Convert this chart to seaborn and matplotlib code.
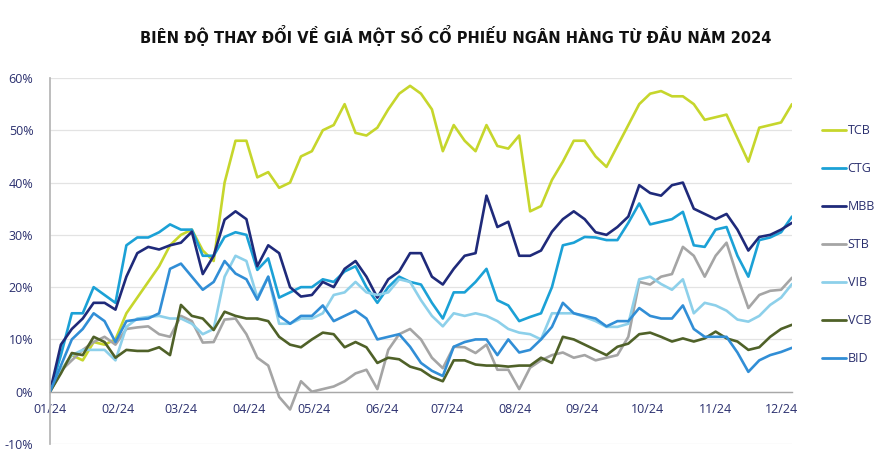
import pandas as pd
import matplotlib
matplotlib.use("Agg")
import matplotlib.pyplot as plt
import matplotlib.dates as mdates
from matplotlib.ticker import PercentFormatter, MultipleLocator
import seaborn as sns

# sample dates: every 5 days from 01/01/2024 to 06/12/2024
DATES = pd.date_range("2024-01-01", periods=69, freq="5D")

TCB = [0, 4, 7, 6, 9.5, 9, 10, 15, 18, 21, 24, 28, 30, 31, 27, 25, 40, 48, 48, 41,
       42, 39, 40, 45, 46, 50, 51, 55, 49.5, 49, 50.5, 54, 57, 58.5, 57, 54, 46, 51, 48, 46,
       51, 47, 46.5, 49, 34.5, 35.5, 40.5, 44, 48, 48, 45, 43, 47, 51, 55, 57, 57.5, 56.5, 56.5,
       55, 52, 52.5, 53, 48.5, 44, 50.5, 51, 51.5, 55]
CTG = [0, 7, 15, 15, 20, 18.5, 17, 28, 29.5, 29.5, 30.5, 32, 31, 31, 26, 26, 29.6, 30.5, 30, 23.3,
       25.5, 18, 19, 20, 20, 21.5, 21, 23, 24, 20, 17, 20, 22, 21, 20.5, 17, 14, 19, 19, 21,
       23.5, 17.5, 16.5, 13.5, 14.3, 15, 20, 28, 28.5, 29.6, 29.5, 29, 29, 32.3, 36, 32, 32.5, 33, 34.4,
       28, 27.7, 31, 31.5, 26, 22, 29, 29.5, 30.5, 33.5]
MBB = [0, 9, 12, 14, 17, 17, 15.7, 22, 26.5, 27.7, 27.2, 28, 28.5, 30.6, 22.5, 26, 32.9, 34.5, 33, 24,
       28, 26.5, 20, 18.2, 18.5, 21, 20, 23.5, 25, 22, 18, 21.5, 23, 26.5, 26.5, 22, 20.5, 23.5, 26, 26.5,
       37.5, 31.5, 32.5, 26, 26, 27, 30.6, 33, 34.5, 33, 30.5, 30, 31.5, 33.5, 39.5, 38, 37.5, 39.5, 40,
       35, 34, 33, 34, 31, 27, 29.6, 30, 31, 32.3]
STB = [0, 4, 6, 8, 9.5, 10.5, 9, 12, 12.3, 12.5, 11, 10.5, 14.5, 13.5, 9.4, 9.5, 13.8, 14, 11, 6.5,
       5, -1, -3.4, 2, 0, 0.5, 1, 2, 3.5, 4.2, 0.5, 8, 11, 12, 10, 6.5, 4.5, 8.6, 8.5, 7.4,
       9, 4.2, 4.2, 0.5, 4.6, 6, 7, 7.5, 6.5, 7, 6, 6.5, 7, 10.5, 21, 20.5, 22, 22.5, 27.7,
       26, 22, 26, 28.5, 22, 16, 18.5, 19.3, 19.5, 21.8]
VIB = [0, 4, 7, 8, 8, 8, 6, 12.4, 14, 14.3, 14.5, 14, 14, 13, 11, 12, 22, 26, 25, 18,
       22, 13, 13, 14, 14, 15, 18.5, 19, 21, 19, 18.5, 19, 21.5, 21, 17.5, 14.5, 12.5, 15, 14.5, 15,
       14.5, 13.5, 12, 11.3, 11, 10, 15, 15, 15, 14.3, 13.5, 12.4, 12.4, 13, 21.5, 22, 20.6, 19.5, 21.5,
       15, 17, 16.5, 15.5, 13.8, 13.4, 14.5, 16.6, 18, 20.6]
VCB = [0, 3.5, 7.4, 7, 10.5, 9.5, 6.5, 8, 7.8, 7.8, 8.5, 7, 16.6, 14.5, 14, 11.8, 15.3, 14.5, 14, 14,
       13.5, 10.5, 9, 8.5, 10, 11.3, 11, 8.5, 9.5, 8.5, 5.5, 6.5, 6.2, 4.8, 4.2, 2.8, 2, 6, 6, 5.2,
       5, 5, 4.8, 5, 5, 6.5, 5.5, 10.5, 10, 9, 8, 7, 8.6, 9.2, 11, 11.3, 10.5, 9.6, 10.2,
       9.6, 10.2, 11.5, 10.2, 9.6, 8, 8.5, 10.5, 12, 12.8]
BID = [0, 5, 10, 12, 15, 13.5, 9.5, 13.5, 13.8, 14, 15, 23.5, 24.5, 22, 19.5, 21, 25, 22.6, 21.5, 17.6,
       22, 14.5, 13, 14.5, 14.5, 16.5, 13.5, 14.5, 15.5, 14, 10, 10.5, 11, 8.6, 5.5, 4, 3, 8.6, 9.5, 10,
       10, 7, 10, 7.5, 8, 10, 12.4, 17, 15, 14.5, 14, 12.5, 13.5, 13.5, 16, 14.5, 14, 14, 16.5,
       12, 10.5, 10.5, 10.5, 7.5, 3.8, 6, 7, 7.6, 8.4]

STOCKS = ["TCB", "CTG", "MBB", "STB", "VIB", "VCB", "BID"]
COLORS = {"TCB": "#c6d62c", "CTG": "#1ba1d6", "MBB": "#1f2a7a", "STB": "#a5a5a5",
          "VIB": "#8dd0ea", "VCB": "#4f6128", "BID": "#318ed6"}
TITLE = "BIÊN ĐỘ THAY ĐỔI VỀ GIÁ MỘT SỐ CỔ PHIẾU NGÂN HÀNG TỪ ĐẦU NĂM 2024"

NAVY = "#2a2f6e"


def main():
    series = dict(zip(STOCKS, [TCB, CTG, MBB, STB, VIB, VCB, BID]))
    df = pd.DataFrame({"date": list(DATES) * len(STOCKS),
                       "stock": [s for s in STOCKS for _ in DATES],
                       "value": [v for s in STOCKS for v in series[s]]})

    sns.set_theme(style="white")
    plt.rcParams["font.family"] = ["Open Sans", "DejaVu Sans"]
    plt.rcParams["axes.unicode_minus"] = False

    fig = plt.figure(figsize=(8.83, 4.59), dpi=100)
    ax = fig.add_axes([50 / 883, 1 - 444 / 459, 742 / 883, 366 / 459])

    sns.lineplot(data=df, x="date", y="value", hue="stock", hue_order=STOCKS,
                 palette=COLORS, linewidth=1.9, ax=ax, legend=False)

    ax.set_xlim(DATES[0], DATES[-1])
    ax.set_ylim(-10, 60)
    ax.yaxis.set_major_locator(MultipleLocator(10))
    ax.yaxis.set_major_formatter(PercentFormatter(decimals=0))
    ax.xaxis.set_major_locator(mdates.MonthLocator())
    ax.xaxis.set_major_formatter(mdates.DateFormatter("%m/%y"))
    ax.set_xlabel("")
    ax.set_ylabel("")

    ax.grid(axis="y", color="#e3e3e3", linewidth=0.9)
    ax.set_axisbelow(True)
    for s in ["top", "right"]:
        ax.spines[s].set_visible(False)
    ax.spines["left"].set_color("#b5b5b5")
    ax.spines["bottom"].set_position(("data", 0))
    ax.spines["bottom"].set_color("#a8a8a8")
    ax.spines["bottom"].set_linewidth(1.0)
    ax.tick_params(axis="y", length=0, pad=12, labelsize=9, labelcolor=NAVY)
    ax.tick_params(axis="x", length=4, color="#a8a8a8", direction="out", pad=4,
                   labelsize=9, labelcolor=NAVY)

    handles = [plt.Line2D([], [], color=COLORS[s], linewidth=2.0) for s in STOCKS]
    fig.legend(handles, STOCKS, loc="upper left", bbox_to_anchor=(822 / 883, 1 - 124 / 459),
               frameon=False, fontsize=9, labelcolor=NAVY, handlelength=1.9,
               handletextpad=0.15, labelspacing=2.0, borderpad=0, borderaxespad=0)

    fig.text(456 / 883, 1 - 35 / 459, TITLE, ha="center", va="center", fontsize=11.7,
             fontweight="heavy", fontstretch="condensed", color="#111111",
             family=["DejaVu Sans"])

    fig.savefig("out.png", dpi=100, facecolor="white")


if __name__ == '__main__':
    main()
